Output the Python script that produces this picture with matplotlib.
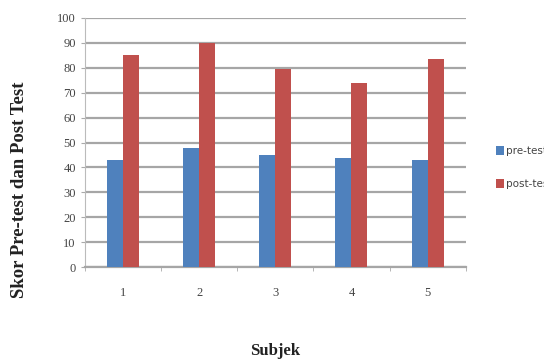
import numpy as np
import matplotlib.pyplot as plt

subjek = ["1", "2", "3", "4", "5"]
pre_test = [43, 48, 45, 44, 43]
post_test = [85, 90, 79.5, 74, 83.5]

fig = plt.figure(figsize=(5.44, 3.6), dpi=100)
ax = fig.add_axes([0.156, 0.258, 0.70, 0.692])

x = np.arange(len(subjek))
w = 0.21
ax.bar(x - w / 2, pre_test, w, color="#4F81BD", label="pre-test", zorder=3)
ax.bar(x + w / 2, post_test, w, color="#C0504D", label="post-test", zorder=3)

ax.set_xlim(-0.5, 4.5)
ax.set_ylim(0, 100)
ax.set_yticks(range(0, 101, 10))
ax.set_xticks(x)
ax.set_xticklabels(subjek, family="Liberation Serif")
ax.set_yticklabels([str(v) for v in range(0, 101, 10)], family="Liberation Serif")
ax.set_xticks(np.arange(-0.5, 5, 1), minor=True)
ax.tick_params(axis="x", which="major", length=0, pad=14, labelsize=9, colors="#444444")
ax.tick_params(axis="x", which="minor", length=3, color="#aaaaaa")
ax.tick_params(axis="y", length=3, color="#aaaaaa", labelsize=9, labelcolor="#444444")

ax.grid(axis="y", color="#a6a6a6", linewidth=1.6, zorder=0)
for s in ["top", "right"]:
    ax.spines[s].set_visible(False)
ax.spines["left"].set_color("#bbbbbb")
ax.spines["bottom"].set_color("#a6a6a6")
ax.spines["bottom"].set_linewidth(1.6)

ax.set_ylabel("Skor Pre-test dan Post Test", family="Liberation Serif",
              fontweight="bold", fontsize=13.5, color="#222222")
ax.yaxis.set_label_coords(-0.15, 0.31)
ax.set_xlabel("Subjek", family="Liberation Serif", fontweight="bold", fontsize=12,
              labelpad=32, color="#222222")

fig.legend(loc="upper left", bbox_to_anchor=(0.895, 0.62), frameon=False,
           fontsize=7.5, handlelength=0.7, handleheight=0.9, handletextpad=0.2,
           labelspacing=2.2, labelcolor="#444444")

fig.savefig("out.png", dpi=100)
